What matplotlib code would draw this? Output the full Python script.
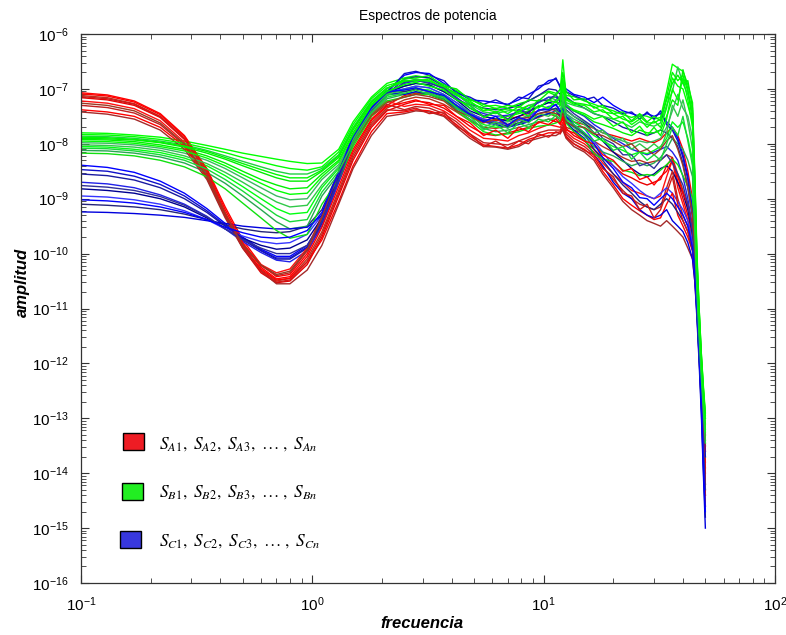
import matplotlib
matplotlib.use("Agg")
import matplotlib.pyplot as plt
from matplotlib.patches import Rectangle
from matplotlib.ticker import LogLocator, NullFormatter

plt.rcParams['font.family'] = ['Liberation Sans', 'DejaVu Sans']
plt.rcParams['mathtext.fontset'] = 'stix'
plt.rcParams['axes.unicode_minus'] = False

# ---------------- data (log10 of amplitude) ----------------
freq_low = [0.10, 0.13, 0.17, 0.22, 0.28, 0.35, 0.42, 0.50, 0.60, 0.70, 0.80,
            0.95, 1.10, 1.30, 1.50, 1.80, 2.10]
freq_high = [2.5, 2.8, 3.2, 3.7, 4.2, 4.8, 5.5, 6.2, 7.0, 7.8, 8.6, 9.5, 10.5,
             11.3, 11.8, 12.1, 12.5, 13.5, 15, 16.5, 18, 20, 22, 24, 26, 28,
             30, 32, 34, 36, 38, 40, 42, 44, 45, 46, 47, 48, 49, 50]

red_low = [
    [-7.07, -7.11, -7.22, -7.45, -7.85, -8.45, -9.15, -9.75, -10.20, -10.42, -10.38, -10.00, -9.45, -8.70, -8.10, -7.55, -7.30],
    [-7.12, -7.16, -7.27, -7.50, -7.90, -8.50, -9.25, -9.85, -10.30, -10.50, -10.45, -10.10, -9.60, -8.85, -8.20, -7.62, -7.35],
    [-7.16, -7.20, -7.30, -7.52, -7.92, -8.55, -9.30, -9.90, -10.35, -10.53, -10.50, -10.20, -9.70, -8.95, -8.30, -7.70, -7.40],
    [-7.22, -7.26, -7.36, -7.58, -7.97, -8.58, -9.28, -9.82, -10.20, -10.35, -10.28, -9.90, -9.30, -8.50, -7.95, -7.45, -7.22],
    [-7.30, -7.34, -7.44, -7.65, -8.02, -8.60, -9.30, -9.85, -10.22, -10.40, -10.35, -9.95, -9.35, -8.55, -8.00, -7.50, -7.28],
    [-7.38, -7.42, -7.50, -7.70, -8.05, -8.62, -9.32, -9.88, -10.28, -10.48, -10.45, -10.15, -9.75, -9.05, -8.40, -7.78, -7.45],
    [-7.42, -7.46, -7.55, -7.75, -8.10, -8.65, -9.35, -9.90, -10.32, -10.55, -10.55, -10.30, -9.85, -9.10, -8.45, -7.85, -7.50],
    [-7.09, -7.13, -7.24, -7.47, -7.87, -8.47, -9.20, -9.80, -10.25, -10.46, -10.42, -10.05, -9.52, -8.78, -8.15, -7.58, -7.32],
    [-7.14, -7.18, -7.28, -7.51, -7.91, -8.52, -9.27, -9.87, -10.32, -10.52, -10.48, -10.15, -9.65, -8.90, -8.25, -7.66, -7.38],
    [-7.26, -7.30, -7.40, -7.62, -8.00, -8.59, -9.29, -9.84, -10.21, -10.38, -10.32, -9.93, -9.33, -8.52, -7.98, -7.48, -7.25],
]
red_high = [
    [-7.12, -7.08, -7.10, -7.20, -7.33, -7.45, -7.55, -7.58, -7.55, -7.50, -7.45, -7.40, -7.35, -7.40, -7.48, -7.52, -7.55, -7.60, -7.65, -7.72, -7.80, -7.85, -7.90, -7.95, -7.90, -7.95, -7.98, -7.92, -7.80, -7.70, -7.85, -8.10, -8.50, -9.00, -9.80, -10.50, -11.20, -11.90, -12.60, -13.40],
    [-7.20, -7.15, -7.18, -7.28, -7.42, -7.58, -7.70, -7.72, -7.68, -7.62, -7.58, -7.52, -7.45, -7.50, -7.60, -7.42, -7.70, -7.75, -7.82, -7.95, -8.05, -8.15, -8.25, -8.32, -8.30, -8.35, -8.32, -8.30, -8.20, -8.25, -8.55, -8.85, -9.15, -9.55, -10.00, -10.60, -11.30, -12.00, -12.70, -13.50],
    [-7.28, -7.22, -7.25, -7.35, -7.50, -7.68, -7.82, -7.85, -7.80, -7.75, -7.70, -7.62, -7.55, -7.60, -7.62, -7.55, -7.72, -7.85, -7.95, -8.10, -8.25, -8.40, -8.55, -8.62, -8.70, -8.75, -8.70, -8.65, -8.40, -8.25, -8.70, -9.00, -9.30, -9.65, -10.10, -10.70, -11.40, -12.10, -12.90, -13.80],
    [-7.32, -7.28, -7.30, -7.40, -7.55, -7.75, -7.90, -7.92, -7.95, -7.85, -7.80, -7.72, -7.65, -7.68, -7.70, -7.60, -7.78, -7.90, -8.00, -8.15, -8.35, -8.55, -8.70, -8.85, -8.90, -8.95, -9.00, -8.95, -8.60, -8.30, -8.80, -9.10, -9.40, -9.70, -10.20, -10.80, -11.50, -12.20, -13.00, -14.00],
    [-7.38, -7.32, -7.35, -7.45, -7.60, -7.82, -7.98, -8.00, -8.02, -7.95, -7.88, -7.80, -7.75, -7.75, -7.75, -7.65, -7.82, -7.95, -8.05, -8.20, -8.42, -8.65, -8.85, -9.00, -9.10, -9.15, -9.20, -9.15, -8.80, -8.50, -9.00, -9.30, -9.50, -9.80, -10.30, -10.90, -11.60, -12.40, -13.20, -14.20],
    [-7.42, -7.38, -7.40, -7.48, -7.65, -7.86, -8.02, -8.05, -8.08, -8.02, -7.92, -7.86, -7.80, -7.80, -7.78, -7.70, -7.86, -8.00, -8.10, -8.25, -8.50, -8.75, -9.00, -9.12, -9.22, -9.30, -9.38, -9.35, -9.10, -8.90, -9.30, -9.50, -9.70, -9.95, -10.40, -11.00, -11.80, -12.50, -13.30, -14.40],
    [-7.45, -7.40, -7.42, -7.50, -7.70, -7.90, -8.05, -8.06, -8.10, -8.05, -7.95, -7.90, -7.85, -7.85, -7.80, -7.75, -7.90, -8.05, -8.15, -8.30, -8.55, -8.80, -9.05, -9.20, -9.30, -9.40, -9.45, -9.50, -9.40, -9.50, -9.60, -9.70, -9.90, -10.10, -10.50, -11.10, -11.90, -12.70, -13.50, -14.60],
    [-7.25, -7.20, -7.28, -7.30, -7.50, -7.62, -7.85, -7.75, -7.90, -7.70, -7.78, -7.60, -7.65, -7.55, -7.65, -7.50, -7.75, -7.80, -7.95, -8.00, -8.20, -8.30, -8.50, -8.45, -8.65, -8.60, -8.75, -8.60, -8.50, -8.30, -8.60, -8.90, -9.10, -9.50, -10.00, -10.65, -11.35, -12.05, -12.80, -13.60],
    [-7.40, -7.35, -7.45, -7.42, -7.68, -7.82, -8.05, -7.95, -8.08, -7.95, -8.00, -7.82, -7.88, -7.78, -7.82, -7.70, -7.88, -8.00, -8.12, -8.20, -8.45, -8.60, -8.90, -8.95, -9.20, -9.10, -9.35, -9.20, -8.90, -8.60, -9.10, -9.40, -9.60, -9.90, -10.35, -10.95, -11.70, -12.45, -13.25, -14.30],
    [-7.15, -7.10, -7.14, -7.22, -7.40, -7.50, -7.62, -7.55, -7.65, -7.55, -7.52, -7.45, -7.42, -7.45, -7.50, -7.45, -7.60, -7.68, -7.70, -7.82, -7.85, -7.95, -8.05, -8.00, -8.15, -8.10, -8.20, -8.10, -7.95, -7.85, -8.10, -8.40, -8.80, -9.30, -9.90, -10.55, -11.25, -11.95, -12.65, -13.45],
]

green_low = [
    [-7.80, -7.81, -7.84, -7.88, -7.95, -8.03, -8.10, -8.17, -8.23, -8.28, -8.32, -8.36, -8.35, -8.10, -7.60, -7.15, -6.90],
    [-7.86, -7.87, -7.90, -7.95, -8.02, -8.12, -8.22, -8.32, -8.42, -8.50, -8.55, -8.55, -8.45, -8.20, -7.70, -7.22, -6.98],
    [-7.92, -7.93, -7.96, -8.02, -8.10, -8.22, -8.35, -8.50, -8.65, -8.75, -8.82, -8.80, -8.55, -8.30, -7.80, -7.28, -7.03],
    [-7.98, -7.99, -8.02, -8.08, -8.17, -8.30, -8.45, -8.62, -8.80, -8.95, -9.02, -9.00, -8.65, -8.38, -7.88, -7.33, -7.07],
    [-8.05, -8.06, -8.10, -8.16, -8.26, -8.40, -8.58, -8.78, -9.00, -9.18, -9.28, -9.25, -8.80, -8.45, -7.95, -7.40, -7.12],
    [-8.12, -8.13, -8.17, -8.24, -8.35, -8.52, -8.72, -8.95, -9.20, -9.42, -9.55, -9.50, -8.95, -8.55, -8.00, -7.45, -7.18],
    [-8.17, -8.18, -8.22, -8.30, -8.42, -8.60, -8.82, -9.08, -9.35, -9.58, -9.72, -9.65, -9.10, -8.65, -8.05, -7.50, -7.22],
    [-7.83, -7.84, -7.87, -7.92, -7.99, -8.08, -8.16, -8.25, -8.33, -8.40, -8.45, -8.48, -8.42, -8.15, -7.65, -7.18, -6.94],
    [-8.02, -8.03, -8.06, -8.12, -8.22, -8.36, -8.52, -8.70, -8.90, -9.06, -9.15, -9.12, -8.75, -8.42, -7.92, -7.37, -7.10],
    [-7.90, -7.91, -7.93, -7.98, -8.06, -8.17, -8.28, -8.40, -8.52, -8.62, -8.68, -8.68, -8.50, -8.25, -7.75, -7.25, -7.00],
    [-7.95, -7.96, -7.99, -8.05, -8.13, -8.26, -8.40, -8.56, -8.72, -8.85, -8.92, -8.90, -8.60, -8.33, -7.84, -7.30, -7.05],
    [-8.08, -8.09, -8.13, -8.20, -8.30, -8.46, -8.65, -8.86, -9.10, -9.30, -9.42, -9.38, -8.88, -8.50, -7.98, -7.43, -7.15],
    [-7.88, -7.89, -7.92, -7.97, -8.04, -8.14, -8.25, -8.36, -8.47, -8.56, -8.62, -8.62, -8.48, -8.22, -7.72, -7.24, -6.99],
]
green_high = [
    [-6.80, -6.76, -6.80, -6.92, -7.03, -7.18, -7.32, -7.30, -7.35, -7.27, -7.22, -7.12, -7.04, -7.08, -7.02, -6.47, -7.12, -7.14, -7.22, -7.28, -7.34, -7.40, -7.47, -7.52, -7.47, -7.50, -7.55, -7.52, -7.05, -6.55, -6.62, -6.68, -6.92, -7.25, -8.50, -10.00, -11.00, -11.80, -12.40, -12.90],
    [-6.88, -6.82, -6.85, -6.98, -7.10, -7.28, -7.42, -7.45, -7.40, -7.38, -7.30, -7.25, -7.15, -7.20, -7.12, -6.90, -7.25, -7.30, -7.35, -7.45, -7.50, -7.55, -7.62, -7.70, -7.60, -7.65, -7.68, -7.62, -7.30, -7.05, -6.60, -6.90, -7.10, -7.45, -8.70, -10.20, -11.10, -11.90, -12.50, -13.00],
    [-6.95, -6.90, -6.92, -7.05, -7.18, -7.35, -7.50, -7.55, -7.50, -7.45, -7.40, -7.32, -7.25, -7.30, -7.22, -7.00, -7.32, -7.40, -7.48, -7.60, -7.65, -7.72, -7.80, -7.85, -7.75, -7.80, -7.80, -7.75, -7.50, -7.20, -7.30, -6.65, -7.00, -7.60, -8.90, -10.40, -11.30, -12.00, -12.60, -13.20],
    [-7.00, -6.95, -6.98, -7.10, -7.25, -7.42, -7.58, -7.62, -7.60, -7.55, -7.48, -7.40, -7.35, -7.38, -7.30, -7.10, -7.40, -7.50, -7.60, -7.72, -7.80, -7.88, -7.95, -8.00, -7.95, -7.98, -7.95, -7.90, -7.70, -7.40, -7.10, -7.35, -7.50, -7.90, -9.20, -10.50, -11.40, -12.10, -12.70, -13.30],
    [-7.05, -7.00, -7.02, -7.14, -7.32, -7.50, -7.65, -7.70, -7.68, -7.62, -7.58, -7.50, -7.45, -7.48, -7.40, -7.20, -7.50, -7.60, -7.72, -7.85, -7.95, -8.05, -8.12, -8.20, -8.15, -8.18, -8.12, -8.05, -7.90, -7.60, -7.70, -7.60, -7.90, -8.30, -9.50, -10.70, -11.50, -12.20, -12.80, -13.40],
    [-7.10, -7.06, -7.07, -7.18, -7.38, -7.55, -7.72, -7.78, -7.75, -7.70, -7.65, -7.60, -7.55, -7.55, -7.50, -7.28, -7.58, -7.70, -7.85, -8.05, -8.15, -8.22, -8.32, -8.40, -8.35, -8.40, -8.35, -8.25, -8.10, -7.90, -8.00, -8.10, -8.30, -8.60, -9.70, -10.80, -11.60, -12.30, -12.90, -13.50],
    [-7.15, -7.10, -7.10, -7.20, -7.40, -7.58, -7.78, -7.84, -7.82, -7.78, -7.72, -7.68, -7.66, -7.62, -7.58, -7.35, -7.62, -7.78, -7.92, -8.18, -8.28, -8.32, -8.48, -8.52, -8.58, -8.56, -8.58, -8.48, -8.38, -8.28, -8.38, -8.58, -8.78, -8.98, -9.95, -11.00, -11.80, -12.50, -13.10, -13.70],
    [-6.85, -6.86, -6.82, -7.00, -7.12, -7.22, -7.40, -7.35, -7.45, -7.32, -7.38, -7.20, -7.22, -7.12, -7.20, -6.85, -7.20, -7.28, -7.30, -7.42, -7.38, -7.55, -7.50, -7.65, -7.55, -7.70, -7.58, -7.70, -7.35, -6.80, -6.95, -7.00, -7.30, -7.60, -8.80, -10.30, -11.20, -12.00, -12.60, -13.10],
    [-7.02, -6.98, -7.05, -7.12, -7.30, -7.45, -7.70, -7.60, -7.72, -7.55, -7.62, -7.45, -7.50, -7.40, -7.45, -7.15, -7.45, -7.55, -7.65, -7.80, -7.75, -7.95, -7.90, -8.10, -8.00, -8.10, -8.00, -8.10, -7.80, -7.30, -7.50, -7.20, -7.60, -8.10, -9.30, -10.60, -11.40, -12.10, -12.70, -13.30],
    [-6.82, -6.80, -6.76, -6.95, -7.00, -7.20, -7.28, -7.36, -7.30, -7.34, -7.20, -7.22, -7.06, -7.12, -7.00, -6.70, -7.05, -7.20, -7.18, -7.35, -7.30, -7.45, -7.42, -7.58, -7.45, -7.60, -7.50, -7.58, -7.20, -6.90, -6.75, -6.90, -6.85, -7.35, -8.60, -10.10, -11.00, -11.80, -12.45, -12.95],
    [-6.92, -6.88, -6.95, -7.02, -7.20, -7.30, -7.52, -7.42, -7.58, -7.40, -7.50, -7.30, -7.35, -7.22, -7.30, -6.95, -7.30, -7.38, -7.45, -7.55, -7.50, -7.68, -7.60, -7.80, -7.68, -7.85, -7.70, -7.85, -7.55, -7.00, -7.20, -6.80, -7.20, -7.70, -9.00, -10.45, -11.35, -12.05, -12.65, -13.25],
    [-7.08, -7.02, -7.10, -7.15, -7.35, -7.50, -7.75, -7.65, -7.80, -7.62, -7.70, -7.55, -7.60, -7.48, -7.55, -7.25, -7.55, -7.65, -7.80, -7.95, -7.90, -8.12, -8.05, -8.28, -8.15, -8.30, -8.20, -8.30, -8.00, -7.70, -7.85, -7.50, -7.95, -8.40, -9.60, -10.75, -11.55, -12.25, -12.85, -13.45],
    [-6.86, -6.84, -6.86, -6.96, -7.08, -7.25, -7.36, -7.42, -7.36, -7.42, -7.30, -7.35, -7.20, -7.25, -7.15, -6.80, -7.18, -7.25, -7.28, -7.32, -7.42, -7.45, -7.55, -7.60, -7.50, -7.62, -7.62, -7.55, -7.15, -6.70, -6.85, -6.75, -7.05, -7.40, -8.65, -10.15, -11.05, -11.85, -12.45, -13.00],
]

blue_low = [
    [-8.39, -8.43, -8.52, -8.68, -8.90, -9.18, -9.45, -9.70, -9.92, -10.05, -10.05, -9.85, -9.40, -8.60, -7.90, -7.35, -7.05],
    [-8.55, -8.58, -8.66, -8.80, -9.00, -9.25, -9.50, -9.75, -9.95, -10.10, -10.10, -9.90, -9.45, -8.65, -7.95, -7.40, -7.10],
    [-8.70, -8.73, -8.80, -8.93, -9.10, -9.32, -9.55, -9.78, -9.98, -10.12, -10.15, -9.95, -9.50, -8.70, -8.00, -7.42, -7.12],
    [-8.82, -8.85, -8.90, -9.00, -9.15, -9.35, -9.55, -9.72, -9.85, -9.92, -9.90, -9.75, -9.35, -8.60, -7.90, -7.38, -7.08],
    [-8.95, -8.97, -9.02, -9.10, -9.22, -9.38, -9.55, -9.68, -9.78, -9.82, -9.80, -9.65, -9.30, -8.55, -7.88, -7.36, -7.06],
    [-9.10, -9.12, -9.15, -9.20, -9.28, -9.38, -9.48, -9.55, -9.60, -9.62, -9.60, -9.50, -9.20, -8.50, -7.85, -7.34, -7.05],
    [-9.24, -9.25, -9.27, -9.30, -9.34, -9.40, -9.45, -9.50, -9.53, -9.55, -9.55, -9.52, -9.30, -8.60, -7.90, -7.38, -7.08],
    [-8.47, -8.50, -8.59, -8.74, -8.95, -9.22, -9.48, -9.72, -9.94, -10.08, -10.08, -9.88, -9.42, -8.62, -7.92, -7.37, -7.07],
    [-8.76, -8.79, -8.85, -8.96, -9.12, -9.33, -9.55, -9.75, -9.90, -10.00, -10.00, -9.85, -9.42, -8.65, -7.95, -7.40, -7.10],
    [-9.02, -9.04, -9.08, -9.15, -9.25, -9.38, -9.52, -9.62, -9.70, -9.72, -9.70, -9.58, -9.25, -8.52, -7.86, -7.35, -7.05],
]
blue_high = [
    [-6.75, -6.70, -6.72, -6.90, -7.05, -7.20, -7.22, -7.25, -7.28, -7.20, -7.10, -7.00, -6.85, -6.82, -6.95, -6.98, -7.00, -7.10, -7.15, -7.25, -7.15, -7.30, -7.40, -7.45, -7.50, -7.45, -7.50, -7.45, -7.60, -7.70, -7.90, -8.20, -8.60, -9.20, -9.90, -10.60, -11.40, -12.20, -13.00, -13.60],
    [-6.82, -6.78, -6.80, -6.95, -7.10, -7.28, -7.35, -7.38, -7.36, -7.30, -7.22, -7.12, -7.00, -7.02, -7.10, -7.05, -7.15, -7.25, -7.35, -7.45, -7.50, -7.60, -7.70, -7.75, -7.80, -7.85, -7.80, -7.75, -7.80, -7.90, -8.05, -8.35, -8.80, -9.35, -10.00, -10.70, -11.50, -12.30, -13.20, -13.90],
    [-6.90, -6.85, -6.88, -7.00, -7.15, -7.35, -7.45, -7.50, -7.48, -7.42, -7.35, -7.25, -7.15, -7.15, -7.22, -7.18, -7.28, -7.40, -7.50, -7.65, -7.75, -7.90, -8.00, -8.10, -8.15, -8.20, -8.15, -8.10, -8.05, -8.15, -8.30, -8.60, -9.00, -9.50, -10.10, -10.80, -11.60, -12.40, -13.40, -14.20],
    [-6.95, -6.90, -6.93, -7.05, -7.20, -7.40, -7.50, -7.55, -7.58, -7.50, -7.42, -7.32, -7.25, -7.22, -7.30, -7.25, -7.38, -7.50, -7.62, -7.80, -7.95, -8.15, -8.30, -8.45, -8.55, -8.60, -8.55, -8.45, -8.40, -8.50, -8.70, -8.90, -9.20, -9.65, -10.20, -10.90, -11.70, -12.50, -13.50, -14.40],
    [-7.00, -6.95, -6.98, -7.10, -7.25, -7.45, -7.55, -7.60, -7.65, -7.58, -7.50, -7.40, -7.32, -7.30, -7.38, -7.32, -7.45, -7.60, -7.72, -7.95, -8.15, -8.40, -8.60, -8.72, -8.85, -8.95, -9.00, -8.90, -8.80, -8.90, -9.05, -9.20, -9.40, -9.80, -10.30, -11.00, -11.80, -12.60, -13.70, -14.60],
    [-7.05, -7.00, -7.05, -7.15, -7.30, -7.48, -7.58, -7.62, -7.68, -7.62, -7.55, -7.45, -7.40, -7.35, -7.45, -7.40, -7.52, -7.68, -7.82, -8.10, -8.30, -8.55, -8.75, -8.90, -9.05, -9.15, -9.20, -9.10, -9.00, -9.10, -9.25, -9.40, -9.60, -9.95, -10.40, -11.10, -11.90, -12.80, -13.90, -14.80],
    [-7.10, -7.05, -7.10, -7.20, -7.35, -7.50, -7.60, -7.65, -7.70, -7.65, -7.60, -7.50, -7.45, -7.40, -7.50, -7.45, -7.60, -7.75, -7.90, -8.20, -8.40, -8.70, -8.90, -9.00, -9.20, -9.30, -9.35, -9.30, -9.20, -9.40, -9.50, -9.60, -9.80, -10.10, -10.50, -11.20, -12.00, -12.90, -14.00, -15.00],
    [-6.72, -6.68, -6.75, -6.85, -7.08, -7.15, -7.28, -7.20, -7.30, -7.15, -7.18, -6.95, -6.90, -6.80, -6.98, -7.00, -7.05, -7.12, -7.20, -7.15, -7.30, -7.35, -7.45, -7.42, -7.55, -7.42, -7.55, -7.40, -7.65, -7.75, -7.95, -8.25, -8.65, -9.25, -9.95, -10.65, -11.45, -12.25, -13.10, -13.70],
    [-6.88, -6.84, -6.90, -6.98, -7.18, -7.30, -7.50, -7.42, -7.55, -7.38, -7.45, -7.22, -7.20, -7.10, -7.25, -7.20, -7.32, -7.45, -7.58, -7.70, -7.90, -8.00, -8.20, -8.20, -8.40, -8.35, -8.45, -8.30, -8.20, -8.35, -8.55, -8.75, -9.10, -9.60, -10.15, -10.85, -11.65, -12.45, -13.45, -14.30],
    [-7.02, -6.98, -7.05, -7.12, -7.30, -7.46, -7.60, -7.50, -7.66, -7.52, -7.58, -7.38, -7.38, -7.28, -7.42, -7.35, -7.50, -7.65, -7.80, -8.00, -8.25, -8.45, -8.70, -8.80, -8.98, -9.00, -9.12, -9.00, -8.90, -9.00, -9.15, -9.30, -9.50, -9.90, -10.35, -11.05, -11.85, -12.70, -13.80, -14.70],
]

legend_labels = [r'$\mathit{S}_{\mathit{A1}},\ \mathit{S}_{\mathit{A2}},\ \mathit{S}_{\mathit{A3}},\ \ldots\ ,\ \mathit{S}_{\mathit{An}}$',
                 r'$\mathit{S}_{\mathit{B1}},\ \mathit{S}_{\mathit{B2}},\ \mathit{S}_{\mathit{B3}},\ \ldots\ ,\ \mathit{S}_{\mathit{Bn}}$',
                 r'$\mathit{S}_{\mathit{C1}},\ \mathit{S}_{\mathit{C2}},\ \mathit{S}_{\mathit{C3}},\ \ldots\ ,\ \mathit{S}_{\mathit{Cn}}$']

# ---------------- styles ----------------
red_shades = ['#ff0000', '#b8321e', '#e80000', '#ff1010', '#c02020', '#ff0000',
              '#a52a2a', '#ff0000', '#d01818', '#9a3a22']
green_shades = ['#00ff00', '#20d040', '#00f000', '#3cb860', '#00ff10', '#28a850',
                '#10e010', '#00ff00', '#30c848', '#00ee00', '#00ff00', '#18d838',
                '#00f800']
blue_shades = ['#0000ff', '#1a1aa0', '#2020e8', '#000090', '#3535ff', '#25257a',
               '#0000dd', '#1010c8', '#30309a', '#0000ff']
legend_colors = ['#ee1c24', '#22ee22', '#3838dd']

W, H = 786, 635
fig = plt.figure(figsize=(W / 100, H / 100), dpi=100)
ax = fig.add_axes([81 / W, 1 - 583 / H, (775 - 81) / W, (583 - 34) / H])

freq = freq_low + freq_high
groups = [(red_low, red_high, red_shades), (blue_low, blue_high, blue_shades),
          (green_low, green_high, green_shades)]
n_max = max(len(g[0]) for g in groups)
for i in range(n_max):
    for low, high, shades in groups:
        if i < len(low):
            vals = [10.0 ** v for v in (low[i] + high[i])]
            ax.plot(freq, vals, color=shades[i], lw=1.0, solid_joinstyle='round')

ax.set_xscale('log')
ax.set_yscale('log')
ax.set_xlim(0.1, 100)
ax.set_ylim(1e-16, 1e-6)
ax.yaxis.set_major_locator(LogLocator(base=10, numticks=30))
ax.yaxis.set_minor_locator(LogLocator(base=10, subs=range(2, 10), numticks=300))
ax.yaxis.set_minor_formatter(NullFormatter())
ax.xaxis.set_minor_formatter(NullFormatter())
ax.tick_params(which='both', direction='in', top=True, right=True, colors='#333333',
               labelcolor='black', labelsize=11)
ax.tick_params(which='major', length=6, width=0.8)
ax.tick_params(which='minor', length=3.5, width=0.6)
ax.tick_params(axis='x', pad=9)
ax.tick_params(axis='y', pad=9)
for s in ax.spines.values():
    s.set_color('#333333')
    s.set_linewidth(0.9)

fig.text(428 / W, 1 - 16 / H, 'Espectros de potencia', ha='center', va='center', fontsize=10)
fig.text(422 / W, 1 - 623 / H, 'frecuencia', ha='center', va='center', fontsize=12,
         fontweight='bold', fontstyle='italic')
fig.text(22 / W, 1 - 282 / H, 'amplitud', ha='center', va='center', rotation=90,
         fontsize=12, fontweight='bold', fontstyle='italic')

# legend (manual, as in the reference)
sq = [(123, 433), (122, 483), (120, 531)]
txt_y = [444, 492, 541]
for (x0, y0), col, lab, ty in zip(sq, legend_colors, legend_labels, txt_y):
    fig.add_artist(Rectangle((x0 / W, 1 - (y0 + 17) / H), 21 / W, 17 / H,
                             transform=fig.transFigure, facecolor=col,
                             edgecolor='black', lw=1))
    fig.text(159 / W, 1 - ty / H, lab, ha='left', va='center', fontsize=12.5)

fig.savefig('out.png', dpi=100)
